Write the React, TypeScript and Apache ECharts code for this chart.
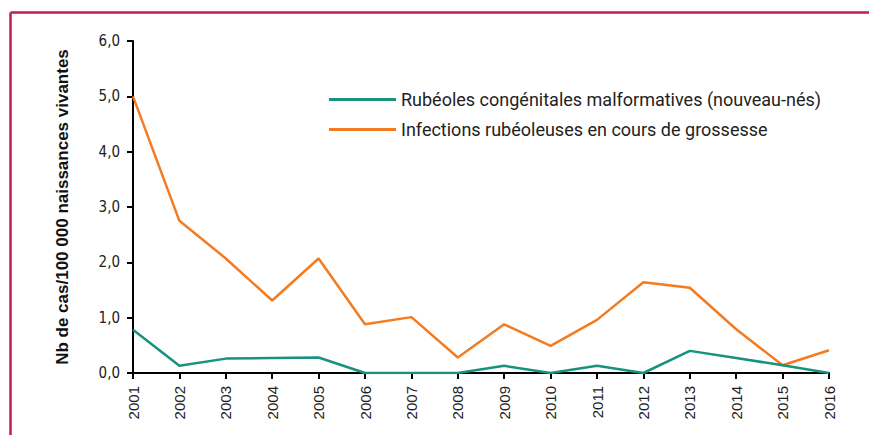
import React, { useEffect, useRef } from "react";
import * as echarts from "echarts";

const years = ["2001","2002","2003","2004","2005","2006","2007","2008","2009","2010","2011","2012","2013","2014","2015","2016"];
const congenital = [0.78, 0.13, 0.26, 0.27, 0.28, 0, 0, 0, 0.13, 0, 0.13, 0, 0.40, 0.27, 0.14, 0];
const infections = [5.0, 2.75, 2.07, 1.31, 2.07, 0.88, 1.01, 0.28, 0.88, 0.49, 0.96, 1.64, 1.54, 0.79, 0.14, 0.41];
const seriesNames = ["Rubéoles congénitales malformatives (nouveau-nés)", "Infections rubéoleuses en cours de grossesse"];
const yAxisTitle = "Nb de cas/100 000 naissances vivantes";

export default function App() {
  const ref = useRef<HTMLDivElement>(null);
  useEffect(() => {
    const chart = echarts.init(ref.current!, null, { renderer: "svg" });
    const numFont = "'DejaVu Sans Condensed', 'Roboto Condensed', sans-serif";
    chart.setOption({
      animation: false,
      backgroundColor: "#fff",
      grid: { left: 133, right: 40, top: 41, bottom: 62, containLabel: false },
      legend: {
        orient: "vertical",
        left: 329,
        top: 89,
        padding: 0,
        itemWidth: 67,
        itemHeight: 3,
        itemGap: 9,
        icon: "rect",
        textStyle: { fontFamily: "Roboto, sans-serif", fontSize: 18, color: "#222", lineHeight: 21 },
        data: seriesNames,
      },
      graphic: [
        { type: "line", shape: { x1: 10.5, y1: 12.5, x2: 869, y2: 12.5 }, style: { stroke: "#C2185B", lineWidth: 2.5 } },
        { type: "line", shape: { x1: 10.5, y1: 12.5, x2: 10.5, y2: 435 }, style: { stroke: "#C2185B", lineWidth: 2.5 } },
      ],
      xAxis: {
        type: "category",
        data: years,
        boundaryGap: false,
        axisLine: { lineStyle: { color: "#000", width: 2 } },
        axisTick: { show: true, length: 6, lineStyle: { color: "#000", width: 2 }, alignWithLabel: true },
        axisLabel: { rotate: 90, color: "#222", fontFamily: "'Liberation Sans', Arial, sans-serif", fontSize: 15, margin: 13 },
      },
      yAxis: {
        type: "value",
        min: 0,
        max: 6,
        interval: 1,
        name: yAxisTitle,
        nameLocation: "middle",
        nameGap: 62,
        nameRotate: 90,
        nameTextStyle: { fontFamily: "'Liberation Sans', Arial, sans-serif", fontWeight: "bold", fontSize: 17, color: "#111" },
        axisLine: { show: true, lineStyle: { color: "#000", width: 2 } },
        axisTick: { show: true, length: 6, lineStyle: { color: "#000", width: 2 } },
        splitLine: { show: false },
        axisLabel: {
          color: "#222",
          fontFamily: numFont,
          fontSize: 15,
          margin: 13,
          formatter: (v: number) => v.toFixed(1).replace(".", ","),
        },
      },
      series: [
        {
          name: seriesNames[0],
          type: "line",
          data: congenital,
          showSymbol: false,
          symbol: "none",
          lineStyle: { color: "#17927F", width: 2.5 },
          itemStyle: { color: "#17927F" },
          z: 3,
        },
        {
          name: seriesNames[1],
          type: "line",
          data: infections,
          showSymbol: false,
          symbol: "none",
          lineStyle: { color: "#F47B20", width: 2.5 },
          itemStyle: { color: "#F47B20" },
          z: 2,
        },
      ],
    });
    return () => chart.dispose();
  }, []);
  return (
    <div
      ref={ref}
      style={{ position: "absolute", left: 0, top: 0, width: 869, height: 435 }}
    />
  );
}
